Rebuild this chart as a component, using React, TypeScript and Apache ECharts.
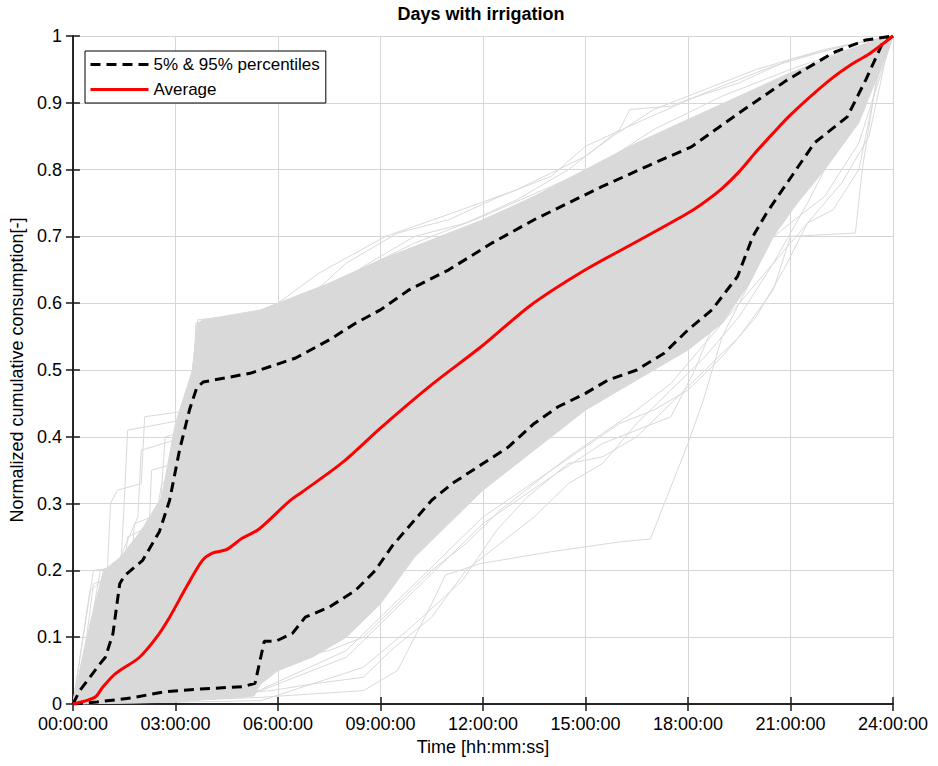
import React, { useEffect, useRef } from "react";
import * as echarts from "echarts";

// ---- data (x in hours, y normalized cumulative consumption) ----
const xTickHours = [0, 3, 6, 9, 12, 15, 18, 21, 24];
const yTicks = [0, 0.1, 0.2, 0.3, 0.4, 0.5, 0.6, 0.7, 0.8, 0.9, 1];

const averageCurve = [
  [0, 0], [0.64, 0.01], [0.87, 0.025], [1.19, 0.043], [1.37, 0.05], [1.95, 0.07],
  [2.45, 0.1], [2.83, 0.13], [3.32, 0.175], [3.79, 0.215], [4.08, 0.226], [4.49, 0.231],
  [4.95, 0.248], [5.45, 0.262], [6.32, 0.303], [6.7, 0.317], [7.9, 0.362],
  [9.0, 0.413], [10.5, 0.478], [12.0, 0.537], [13.4, 0.597], [15.0, 0.65], [16.6, 0.695],
  [18.0, 0.735], [18.5, 0.752], [19.0, 0.772], [19.5, 0.797], [20.0, 0.827], [20.5, 0.855],
  [21.0, 0.882], [22.1, 0.932], [22.8, 0.958], [23.3, 0.973], [24, 1],
];

const percentile95 = [
  [0, 0], [0.2, 0.02], [0.79, 0.06], [0.95, 0.07], [1.17, 0.105], [1.37, 0.18], [1.51, 0.192],
  [2.04, 0.215], [2.53, 0.258], [2.83, 0.305], [3.12, 0.38], [3.41, 0.44], [3.62, 0.473],
  [3.81, 0.482], [5.18, 0.495], [6.52, 0.518], [7.5, 0.545], [8.27, 0.57], [9.0, 0.59],
  [9.84, 0.62], [11.0, 0.65], [12.26, 0.69], [13.5, 0.725], [14.7, 0.755], [15.46, 0.774],
  [16.8, 0.805], [18.1, 0.834], [19.5, 0.885], [20.9, 0.934], [22.25, 0.975], [23.2, 0.994],
  [24, 1],
];

const percentile05 = [
  [0, 0], [0.7, 0.003], [1.7, 0.009], [2.65, 0.018], [3.6, 0.022], [4.98, 0.026], [5.33, 0.031],
  [5.6, 0.094], [5.94, 0.094], [6.43, 0.106], [6.8, 0.13], [7.5, 0.145], [8.27, 0.17],
  [8.85, 0.2], [9.35, 0.237], [10.5, 0.305], [11.1, 0.33], [12.0, 0.36], [12.75, 0.385],
  [13.5, 0.42], [14.2, 0.445], [15.0, 0.465], [15.66, 0.485], [16.5, 0.5], [17.3, 0.525],
  [18.0, 0.56], [18.7, 0.59], [19.45, 0.64], [19.9, 0.7], [20.3, 0.735], [20.9, 0.78],
  [21.7, 0.84], [22.66, 0.879], [23.2, 0.934], [23.7, 0.99], [24, 1],
];

// dense core of the individual daily curves
const bandTop = [
  [0, 0], [0.5, 0.12], [0.9, 0.2], [1.4, 0.22], [2.0, 0.26], [2.6, 0.31], [3.0, 0.42],
  [3.5, 0.5], [3.65, 0.57], [3.8, 0.575], [5.5, 0.59], [6.5, 0.61], [7.5, 0.63], [9.0, 0.665],
  [10.5, 0.695], [12.0, 0.725], [13.5, 0.76], [15.0, 0.8], [16.5, 0.84], [18.0, 0.875],
  [19.5, 0.91], [21.0, 0.945], [22.5, 0.975], [23.5, 0.995], [24, 1],
];
const bandBottom = [
  [0, 0], [3.0, 0.003], [5.3, 0.012], [5.5, 0.03], [6.0, 0.05], [7.0, 0.07], [8.0, 0.1],
  [9.0, 0.15], [10.0, 0.22], [11.0, 0.27], [12.0, 0.32], [13.0, 0.36], [14.0, 0.4],
  [15.0, 0.44], [16.0, 0.47], [17.0, 0.5], [18.0, 0.53], [19.0, 0.57], [19.8, 0.63],
  [20.5, 0.7], [21.2, 0.75], [22.0, 0.8], [23.0, 0.87], [23.7, 0.96], [24, 1],
];

// individual curves visible outside the dense core
const outerCurve1 = [
  [0, 0], [0.6, 0.2], [1.4, 0.205], [1.5, 0.3], [1.6, 0.41], [3.2, 0.425], [3.5, 0.5],
  [3.65, 0.575], [5.3, 0.585], [6.0, 0.6], [7.2, 0.645], [9.15, 0.7], [11.1, 0.735],
  [13.0, 0.77], [15.0, 0.82], [15.8, 0.85], [17.0, 0.89], [18.5, 0.92], [20.0, 0.95],
  [22.0, 0.98], [24, 1],
];
const outerCurve2 = [
  [0, 0], [0.9, 0.2], [1.3, 0.21], [1.9, 0.28], [2.0, 0.38], [3.3, 0.4], [3.6, 0.55],
  [5.0, 0.565], [6.5, 0.6], [8.0, 0.64], [10.0, 0.69], [12.0, 0.73], [14.0, 0.775],
  [15.5, 0.81], [17.0, 0.86], [19.0, 0.91], [21.0, 0.95], [23.0, 0.985], [24, 1],
];
const outerCurve3 = [
  [0, 0], [1.0, 0.1], [1.4, 0.15], [1.6, 0.25], [2.4, 0.27], [2.6, 0.33], [3.4, 0.35],
  [3.6, 0.52], [5.5, 0.545], [7.0, 0.6], [8.5, 0.655], [10.0, 0.7], [11.5, 0.72],
  [13.0, 0.755], [14.5, 0.8], [16.0, 0.86], [16.3, 0.89], [17.5, 0.895], [18.0, 0.905],
  [19.5, 0.93], [21.0, 0.965], [23.0, 0.99], [24, 1],
];
const outerCurve4 = [
  [0, 0], [0.3, 0.05], [0.8, 0.2], [2.2, 0.22], [2.3, 0.35], [3.0, 0.36], [3.55, 0.5],
  [5.0, 0.56], [6.5, 0.59], [8.0, 0.66], [9.5, 0.705], [11.0, 0.725], [12.5, 0.76],
  [14.0, 0.79], [15.0, 0.835], [16.5, 0.87], [18.5, 0.915], [20.5, 0.955], [22.5, 0.985],
  [24, 1],
];
const outerCurve5 = [
  [0, 0], [3.0, 0.005], [5.5, 0.01], [8.5, 0.02], [9.5, 0.05], [10.5, 0.15], [10.9, 0.193],
  [11.9, 0.21], [14.0, 0.228], [16.05, 0.243], [16.9, 0.247], [18.0, 0.39], [18.45, 0.455],
  [19.0, 0.55], [20.0, 0.65], [21.0, 0.75], [22.0, 0.83], [23.0, 0.92], [24, 1],
];
const outerCurve6 = [
  [0, 0], [5.5, 0.005], [8.5, 0.055], [9.9, 0.115], [11.4, 0.185], [12.4, 0.26],
  [13.3, 0.31], [14.5, 0.36], [15.5, 0.37], [16.5, 0.4], [17.5, 0.45], [18.5, 0.5],
  [19.5, 0.55], [20.5, 0.62], [21.0, 0.7], [22.9, 0.705], [23.1, 0.8], [23.5, 0.93], [24, 1],
];
const outerCurve7 = [
  [0, 0], [5.8, 0.02], [7.0, 0.03], [8.5, 0.04], [9.3, 0.08], [10.5, 0.13], [11.5, 0.2],
  [12.5, 0.24], [13.5, 0.28], [14.5, 0.33], [15.5, 0.36], [16.5, 0.42], [17.5, 0.47],
  [18.5, 0.52], [19.5, 0.58], [20.5, 0.66], [21.5, 0.75], [22.5, 0.85], [23.5, 0.95], [24, 1],
];
const outerCurve8 = [
  [0, 0], [5.6, 0.06], [6.5, 0.07], [7.5, 0.08], [8.5, 0.1], [9.5, 0.15], [10.5, 0.2],
  [11.5, 0.24], [12.5, 0.29], [13.5, 0.33], [14.5, 0.37], [15.5, 0.405], [16.5, 0.44],
  [17.5, 0.48], [18.5, 0.54], [19.5, 0.6], [20.5, 0.66], [21.5, 0.72], [22.25, 0.74],
  [23.0, 0.8], [23.6, 0.95], [24, 1],
];
const outerCurve9 = [
  [0, 0], [0.5, 0.17], [1.0, 0.19], [1.1, 0.3], [1.3, 0.32], [2.0, 0.33], [2.1, 0.43],
  [3.5, 0.44], [3.6, 0.57], [6.0, 0.59], [9.0, 0.65], [12.0, 0.72], [15.0, 0.79],
  [18.0, 0.86], [21.0, 0.94], [24, 1],
];
const outerCurve10 = [
  [0, 0], [0.7, 0.12], [1.2, 0.14], [1.5, 0.22], [2.5, 0.25], [2.7, 0.4], [3.4, 0.41],
  [3.7, 0.56], [6.0, 0.58], [9.0, 0.64], [12.0, 0.71], [15.0, 0.78], [18.0, 0.85],
  [21.0, 0.93], [24, 1],
];
const outerCurve11 = [
  [0, 0], [0.4, 0.1], [0.6, 0.18], [1.7, 0.2], [1.8, 0.27], [2.8, 0.29], [2.9, 0.37],
  [3.5, 0.38], [3.7, 0.54], [6.0, 0.57], [9.0, 0.63], [12.0, 0.7], [15.0, 0.77],
  [18.0, 0.84], [21.0, 0.92], [24, 1],
];
const outerCurve12 = [
  [0, 0], [5.0, 0.01], [8.0, 0.08], [10.0, 0.18], [12.0, 0.28], [14.0, 0.35], [16.0, 0.42],
  [17.0, 0.44], [18.0, 0.47], [19.0, 0.52], [20.0, 0.58], [20.8, 0.65], [21.5, 0.72],
  [22.5, 0.78], [23.3, 0.85], [23.8, 0.97], [24, 1],
];
const outerCurve13 = [
  [0, 0], [5.0, 0.01], [8.0, 0.07], [10.0, 0.17], [12.0, 0.27], [14.0, 0.34], [15.5, 0.39],
  [16.5, 0.41], [17.5, 0.43], [18.2, 0.5], [19.0, 0.6], [19.8, 0.67], [21.0, 0.72],
  [22.0, 0.76], [23.0, 0.84], [24, 1],
];
const outerCurves = [
  outerCurve1, outerCurve2, outerCurve3, outerCurve4, outerCurve5, outerCurve6, outerCurve7,
  outerCurve8, outerCurve9, outerCurve10, outerCurve11, outerCurve12, outerCurve13,
];

const FONT = "'Liberation Sans', Arial, Helvetica, sans-serif";
const AXIS_COLOR = "#1a1a1a";
const GRAY = "#d9d9d9";

const fmtHour = (v: number) => String(Math.round(v)).padStart(2, "0") + ":00:00";
const fmtY = (v: number) => String(Math.round(v * 10) / 10);

export default function App() {
  const ref = useRef<HTMLDivElement>(null);

  useEffect(() => {
    if (!ref.current) return;
    const chart = echarts.init(ref.current, undefined, { renderer: "svg" });

    const baseX = {
      type: "value" as const,
      min: xTickHours[0],
      max: xTickHours[xTickHours.length - 1],
      interval: 3,
    };
    const baseY = {
      type: "value" as const,
      min: yTicks[0],
      max: yTicks[yTicks.length - 1],
      interval: 0.1,
    };

    const outerSeries = outerCurves.map((c, i) => ({
      type: "line",
      name: "day" + i,
      data: c,
      symbol: "none",
      silent: true,
      lineStyle: { color: GRAY, width: 1 },
      z: 2,
    }));

    const option: any = {
      animation: false,
      backgroundColor: "#ffffff",
      title: {
        text: "Days with irrigation",
        left: 481,
        textAlign: "center",
        top: 5,
        padding: 0,
        textStyle: { fontFamily: FONT, fontSize: 18, fontWeight: "bold", color: "#000" },
      },
      legend: {
        data: ["5% & 95% percentiles", "Average"],
        orient: "vertical",
        left: 85,
        top: 51,
        padding: [5, 6, 5, 4],
        itemWidth: 58,
        itemHeight: 14,
        itemGap: 8,
        borderColor: "#000",
        borderWidth: 1,
        backgroundColor: "#fff",
        selectedMode: false,
        itemStyle: { opacity: 0 },
        lineStyle: { width: 3 },
        textStyle: { fontFamily: FONT, fontSize: 17, color: "#000" },
      },
      grid: { left: 69, right: 45, top: 36, bottom: 62, containLabel: false },
      xAxis: [
        {
          ...baseX,
          position: "bottom",
          name: "Time [hh:mm:ss]",
          nameLocation: "middle",
          nameGap: 34,
          nameTextStyle: { fontFamily: FONT, fontSize: 18, color: "#000" },
          axisLine: { show: true, lineStyle: { color: AXIS_COLOR, width: 1.5 } },
          axisTick: { show: true, inside: true, length: 7, lineStyle: { color: AXIS_COLOR, width: 1.5 } },
          axisLabel: {
            formatter: fmtHour, fontFamily: FONT, fontSize: 18, lineHeight: 18,
            color: "#000", margin: 11,
          },
          splitLine: { show: true, lineStyle: { color: "#d6d6d6", width: 1 } },
        },
        {
          ...baseX,
          position: "top",
          axisLine: { show: true, lineStyle: { color: AXIS_COLOR, width: 1.5 } },
          axisTick: { show: true, inside: true, length: 7, lineStyle: { color: AXIS_COLOR, width: 1.5 } },
          axisLabel: { show: false },
          splitLine: { show: false },
        },
      ],
      yAxis: [
        {
          ...baseY,
          position: "left",
          name: "Normalized cumulative consumption[-]",
          nameLocation: "middle",
          nameGap: 42,
          nameTextStyle: { fontFamily: FONT, fontSize: 18, color: "#000" },
          axisLine: { show: true, lineStyle: { color: AXIS_COLOR, width: 1.5 } },
          axisTick: { show: true, inside: true, length: 7, lineStyle: { color: AXIS_COLOR, width: 1.5 } },
          axisLabel: {
            formatter: fmtY, fontFamily: FONT, fontSize: 18, lineHeight: 14,
            color: "#000", margin: 11,
          },
          splitLine: { show: true, lineStyle: { color: "#d6d6d6", width: 1 } },
        },
        {
          ...baseY,
          position: "right",
          axisLine: { show: true, lineStyle: { color: AXIS_COLOR, width: 1.5 } },
          axisTick: { show: true, inside: true, length: 7, lineStyle: { color: AXIS_COLOR, width: 1.5 } },
          axisLabel: { show: false },
          splitLine: { show: false },
        },
      ],
      series: [
        ...outerSeries,
        {
          type: "custom",
          name: "band",
          silent: true,
          data: [[0, 0]],
          z: 3,
          renderItem: (_params: any, api: any) => {
            const pts = [
              ...bandTop.map((p) => api.coord(p)),
              ...bandBottom.slice().reverse().map((p) => api.coord(p)),
            ];
            return {
              type: "polygon",
              shape: { points: pts },
              style: { fill: GRAY, stroke: GRAY, lineWidth: 1 },
            };
          },
        },
        {
          type: "line",
          name: "5% & 95% percentiles",
          data: percentile95,
          symbol: "none",
          z: 5,
          lineStyle: { color: "#000", width: 3, type: [10, 6] },
          itemStyle: { color: "#000" },
        },
        {
          type: "line",
          name: "5% & 95% percentiles",
          data: percentile05,
          symbol: "none",
          z: 5,
          lineStyle: { color: "#000", width: 3, type: [10, 6] },
          itemStyle: { color: "#000" },
        },
        {
          type: "line",
          name: "Average",
          data: averageCurve,
          symbol: "none",
          smooth: 0.3,
          z: 6,
          lineStyle: { color: "#ff0000", width: 3 },
          itemStyle: { color: "#ff0000" },
        },
      ],
    };

    chart.setOption(option);
    return () => chart.dispose();
  }, []);

  return (
    <div
      ref={ref}
      style={{ position: "fixed", left: 0, top: 0, width: 938, height: 766, background: "#fff" }}
    />
  );
}
